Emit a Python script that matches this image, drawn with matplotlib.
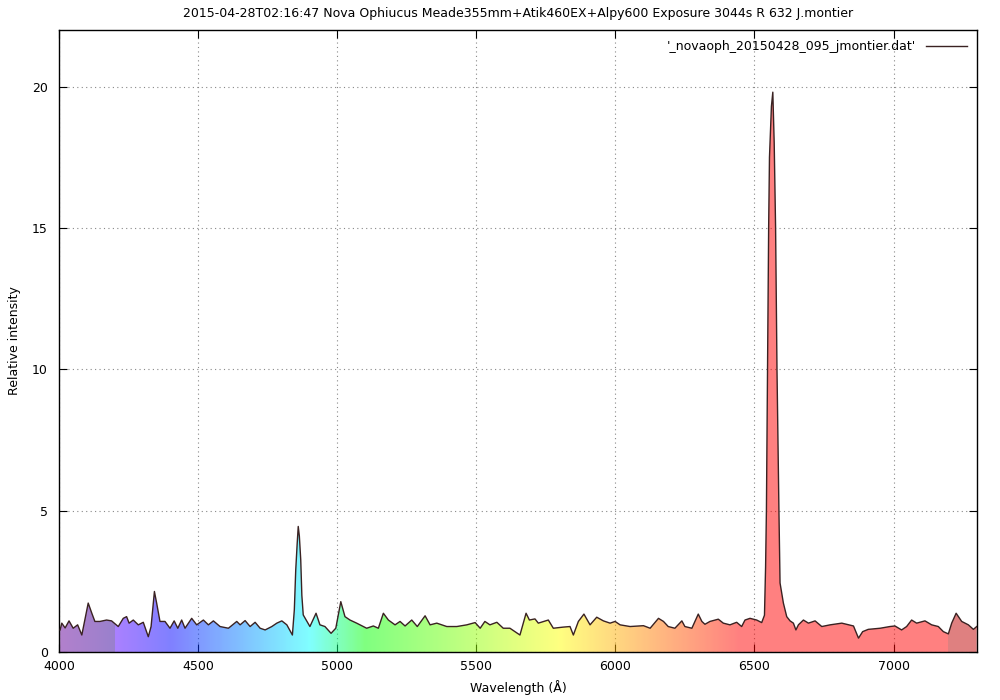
import numpy as np
import matplotlib.pyplot as plt
from matplotlib.patches import Polygon

# spektrum verisi (dalga boyu Angstrom, bagil siddet)
dalga = [4004, 4010, 4022, 4036, 4051, 4067, 4082, 4105, 4118, 4129, 4147, 4171, 4189, 4213, 4231,
         4243, 4252, 4267, 4285, 4303, 4321, 4331, 4343, 4351, 4363, 4381, 4399, 4414, 4427, 4441,
         4453, 4477, 4495, 4519, 4537, 4555, 4579, 4609, 4639, 4651, 4669, 4687, 4705, 4723, 4741,
         4765, 4783, 4801, 4819, 4839, 4846, 4851, 4856, 4860, 4864, 4869, 4873, 4878, 4902, 4924,
         4938, 4956, 4978, 4995, 5013, 5028, 5046, 5070, 5106, 5130, 5148, 5166, 5184, 5208, 5226,
         5244, 5268, 5288, 5316, 5334, 5358, 5394, 5430, 5466, 5496, 5514, 5531, 5549, 5574, 5597,
         5621, 5639, 5657, 5679, 5691, 5711, 5723, 5759, 5777, 5813, 5837, 5849, 5867, 5887, 5909,
         5933, 5957, 5981, 5999, 6017, 6053, 6101, 6125, 6155, 6173, 6190, 6214, 6239, 6250, 6275,
         6298, 6311, 6322, 6340, 6370, 6388, 6412, 6436, 6454, 6466, 6484, 6508, 6526, 6536, 6540,
         6543, 6547, 6551, 6554, 6561, 6566, 6571, 6576, 6581, 6588, 6592, 6604, 6616, 6628, 6640,
         6649, 6658, 6676, 6694, 6718, 6742, 6772, 6814, 6856, 6874, 6889, 6909, 6952, 6987, 7005,
         7029, 7047, 7065, 7083, 7113, 7137, 7161, 7179, 7197, 7209, 7225, 7245, 7269, 7287, 7299]
siddet = [0.78, 1.02, 0.85, 1.10, 0.84, 0.96, 0.60, 1.73, 1.37, 1.08, 1.08, 1.13, 1.10, 0.90, 1.19,
          1.25, 1.02, 1.13, 0.96, 1.05, 0.54, 0.90, 2.14, 1.73, 1.08, 1.08, 0.84, 1.10, 0.84, 1.13,
          0.84, 1.19, 0.96, 1.13, 0.96, 1.10, 0.90, 0.84, 1.08, 0.96, 1.11, 0.90, 1.05, 0.84, 0.78,
          0.90, 1.02, 1.10, 0.96, 0.60, 1.50, 2.90, 3.80, 4.44, 4.10, 3.26, 2.00, 1.31, 0.90, 1.37,
          0.96, 0.90, 0.66, 0.84, 1.78, 1.25, 1.13, 1.02, 0.84, 0.92, 0.84, 1.37, 1.13, 0.96, 1.08,
          0.92, 1.13, 0.90, 1.28, 0.96, 1.02, 0.90, 0.90, 0.96, 1.04, 0.84, 1.08, 0.96, 1.05, 0.84,
          0.84, 0.72, 0.60, 1.37, 1.13, 1.17, 1.02, 1.13, 0.84, 0.88, 0.90, 0.60, 1.08, 1.34, 0.96,
          1.23, 1.10, 1.02, 1.08, 0.96, 0.90, 0.93, 0.84, 1.19, 1.08, 0.90, 0.84, 1.10, 0.90, 0.84,
          1.34, 1.08, 0.98, 1.08, 1.16, 1.02, 0.96, 1.05, 0.90, 1.13, 1.19, 1.13, 1.04, 1.30, 3.00,
          5.00, 10.0, 15.0, 17.5, 19.3, 19.8, 18.0, 15.0, 10.0, 5.00, 2.44, 1.73, 1.25, 1.10, 1.02,
          0.78, 0.96, 1.13, 1.02, 1.10, 0.90, 0.96, 1.02, 0.92, 0.49, 0.72, 0.80, 0.84, 0.90, 0.92,
          0.78, 0.90, 1.13, 1.02, 1.10, 0.96, 0.90, 0.72, 0.64, 1.02, 1.37, 1.08, 0.96, 0.80, 0.90]

x_tikler = [4000, 4500, 5000, 5500, 6000, 6500, 7000]
y_tikler = [0, 5, 10, 15, 20]
baslik = "2015-04-28T02:16:47 Nova Ophiucus Meade355mm+Atik460EX+Alpy600 Exposure 3044s R 632 J.montier"
etiket = "'_novaoph_20150428_095_jmontier.dat'"


def dalga_renk(l):
    # dalga boyu (nm) -> rgb, basit gokkusagi yaklasimi
    if l < 440:
        r, g, b = -(l - 440) / 60, 0.0, 1.0
    elif l < 490:
        r, g, b = 0.0, (l - 440) / 50, 1.0
    elif l < 510:
        r, g, b = 0.0, 1.0, -(l - 510) / 20
    elif l < 580:
        r, g, b = (l - 510) / 70, 1.0, 0.0
    elif l < 645:
        r, g, b = 1.0, -(l - 645) / 65, 0.0
    else:
        r, g, b = 1.0, 0.0, 0.0
    k = 1.0
    if l < 420:
        k = 0.6
    elif l > 720:
        k = 0.75
    return [r * k, g * k, b * k]


fig = plt.figure(figsize=(10, 7), dpi=100)
ax = fig.add_axes([0.059, 0.0686, 0.918, 0.8886])

ax.set_xlim(4000, 7300)
ax.set_ylim(0, 22)

# renkli dolgu: gokkusagi resmi, egrinin alti ile kirpildi
lam = np.linspace(4000, 7300, 800)
img = np.zeros((1, len(lam), 4))
for i, l in enumerate(lam):
    img[0, i, :3] = dalga_renk(l / 10)
    img[0, i, 3] = 0.5
im = ax.imshow(img, extent=(4000, 7300, 0, 22), aspect='auto', origin='lower',
               interpolation='nearest', zorder=2)
koseler = list(zip(dalga, siddet)) + [(dalga[-1], 0), (dalga[0], 0)]
alan = Polygon(koseler, closed=True, facecolor='none', edgecolor='none', transform=ax.transData)
ax.add_patch(alan)
im.set_clip_path(alan)

ax.plot(dalga, siddet, color='#3a2222', linewidth=1, zorder=3, label=etiket)

ax.set_xticks(x_tikler)
ax.set_yticks(y_tikler)
ax.grid(True, color='#888888', linestyle=(0, (1, 3)), linewidth=0.8)
ax.tick_params(direction='in', length=6, top=True, right=True, labelsize=9)
ax.tick_params(axis='x', pad=6)
ax.tick_params(axis='y', pad=8)
for s in ax.spines.values():
    s.set_linewidth(1)

ax.set_title(baslik, fontsize=9, pad=9)
ax.set_xlabel('Wavelength (Å)', fontsize=9, labelpad=5)
ax.set_ylabel('Relative intensity', fontsize=9, labelpad=8)

ax.legend(loc='upper right', frameon=False, markerfirst=False, fontsize=9,
          handlelength=3.3, borderaxespad=0.4)

plt.savefig('out.png', dpi=100)
